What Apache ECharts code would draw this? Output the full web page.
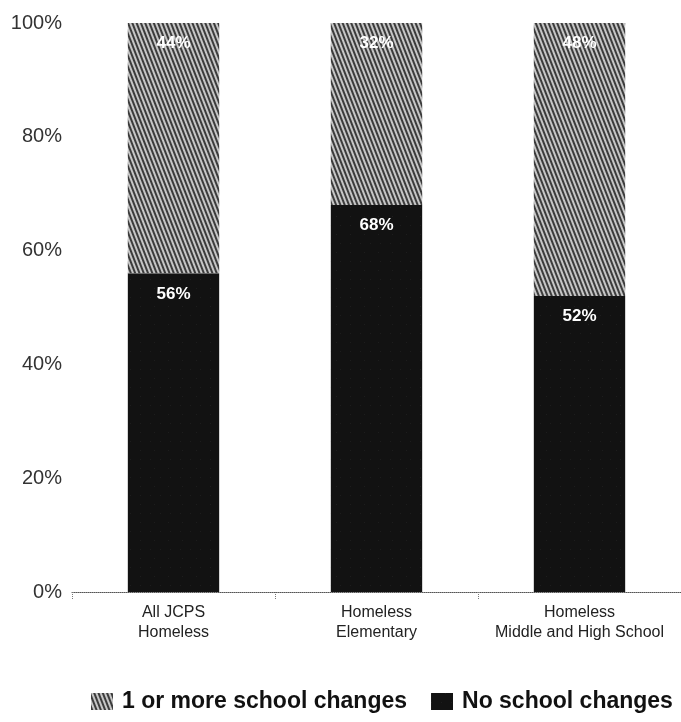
<!DOCTYPE html>
<html>
<head>
<meta charset="utf-8">
<script src="https://cdn.jsdelivr.net/npm/echarts@6/dist/echarts.min.js"></script>
<style>
  html, body { margin: 0; padding: 0; background: #fff; }
  #chart { width: 681px; height: 722px; }
</style>
</head>
<body>
<div id="chart"></div>
<script>
// Share of homeless students by number of school changes
const categories = ['All JCPS\nHomeless', 'Homeless\nElementary', 'Homeless\nMiddle and High School'];
const noChanges = [56, 68, 52];
const oneOrMore = [44, 32, 48];
const seriesNames = ['1 or more school changes', 'No school changes'];

const FONT = '"Liberation Sans", Arial, sans-serif';

const hatchGrey = {
  color: '#c6c6c6',
  decal: {
    symbol: 'rect',
    symbolSize: 1,
    dashArrayX: [[1, 0]],
    dashArrayY: [2, 2],
    rotation: 1.2,
    color: '#3c3c3c'
  }
};
const speckleBlack = {
  color: '#121212',
  decal: {
    symbol: 'rect',
    symbolSize: 0.4,
    dashArrayX: [[1, 9], [1, 13]],
    dashArrayY: [1, 8],
    rotation: 0,
    color: '#4a4a4a'
  }
};

const label = {
  show: true,
  position: 'insideTop',
  distance: 12,
  formatter: '{c}%',
  color: '#fff',
  fontFamily: FONT,
  fontWeight: 'bold',
  fontSize: 17
};

const chart = echarts.init(document.getElementById('chart'));
chart.setOption({
  animation: false,
  backgroundColor: '#fff',
  grid: { left: 72, right: -4, top: 23, bottom: 130 },
  xAxis: {
    type: 'category',
    data: categories,
    axisLine: { lineStyle: { color: '#555', width: 1, type: 'dotted' } },
    axisTick: { show: true, length: 7, lineStyle: { color: '#777', type: 'dotted' } },
    axisLabel: {
      interval: 0,
      margin: 11,
      color: '#222',
      fontFamily: FONT,
      fontSize: 16,
      lineHeight: 20
    }
  },
  yAxis: {
    type: 'value',
    min: 0,
    max: 100,
    interval: 20,
    axisLine: { show: false },
    axisTick: { show: false },
    splitLine: { show: false },
    axisLabel: {
      formatter: '{value}%',
      margin: 10,
      color: '#333',
      fontFamily: FONT,
      fontSize: 20
    }
  },
  legend: {
    data: seriesNames,
    bottom: 4,
    left: 86,
    icon: 'rect',
    itemWidth: 22,
    itemHeight: 17,
    itemGap: 24,
    textStyle: { fontFamily: FONT, fontWeight: 'bold', fontSize: 23, color: '#111', padding: [0, 0, 0, 4] }
  },
  series: [
    {
      name: seriesNames[1],
      type: 'bar',
      stack: 'total',
      barWidth: '45%',
      data: noChanges,
      itemStyle: speckleBlack,
      label: label
    },
    {
      name: seriesNames[0],
      type: 'bar',
      stack: 'total',
      barWidth: '45%',
      data: oneOrMore,
      itemStyle: hatchGrey,
      label: label
    }
  ]
});
</script>
</body>
</html>
